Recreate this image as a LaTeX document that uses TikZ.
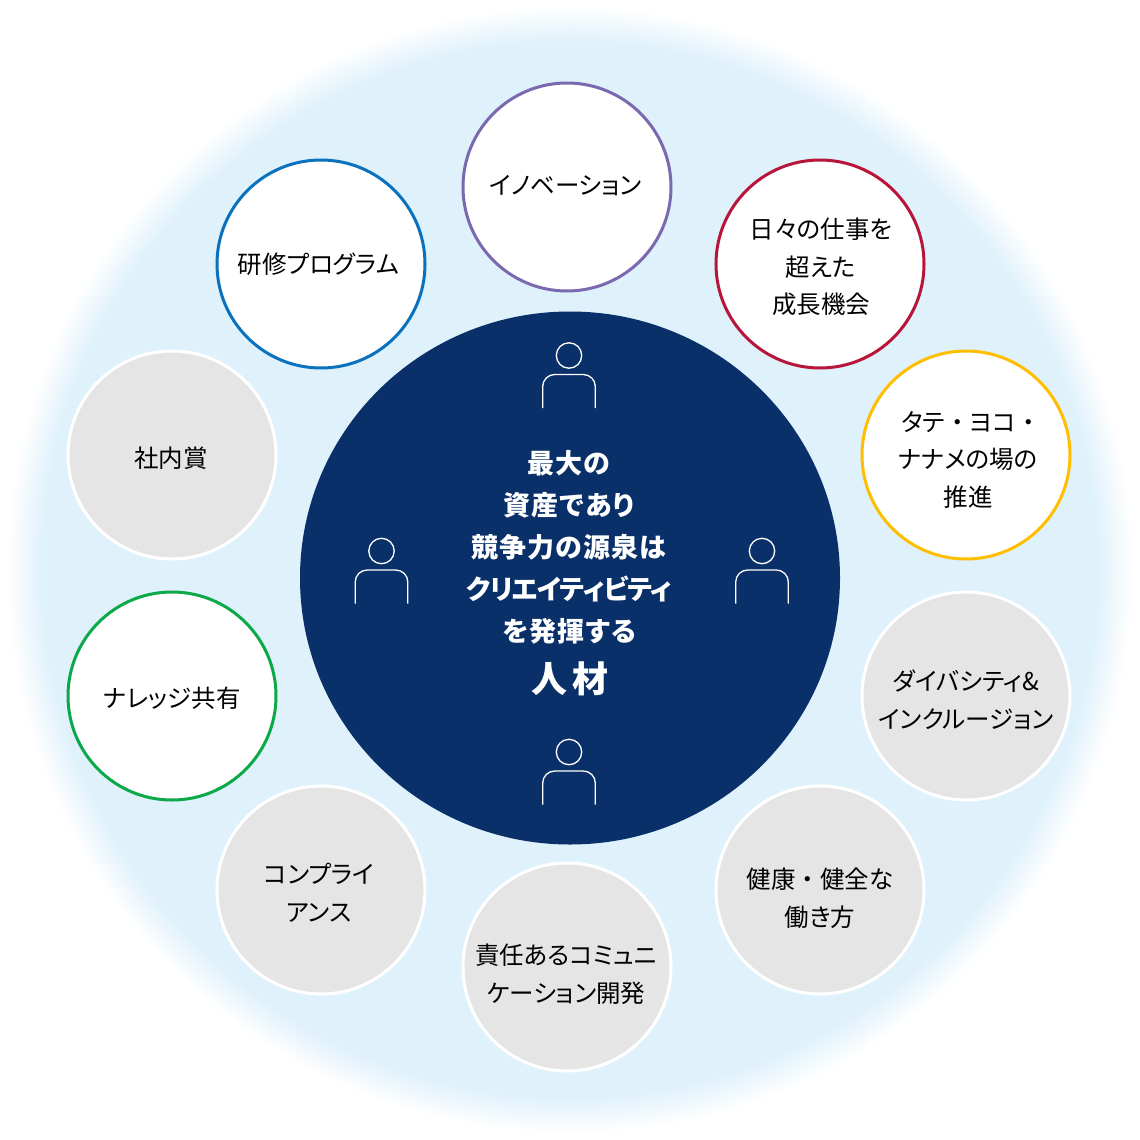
\documentclass[tikz,border=0pt]{standalone}
\usepackage{fontspec}
\setmainfont[RawFeature=+palt]{Noto Sans CJK JP}
\usetikzlibrary{shapes.geometric}

\definecolor{navy}{HTML}{0A3069}
\definecolor{glowblue}{HTML}{DFF1FB}
\definecolor{ringpurple}{HTML}{7A69AF}
\definecolor{ringred}{HTML}{B7163A}
\definecolor{ringyellow}{HTML}{FFBE00}
\definecolor{ringgreen}{HTML}{0CA84A}
\definecolor{ringblue}{HTML}{0A71BE}
\definecolor{fillgray}{HTML}{E5E5E5}

\newcommand{\widedot}{\hspace{.25em}・\hspace{.25em}}

\tikzset{
	theme/.style={circle,minimum size=208pt,inner sep=0pt,line width=3pt},
	openbox/.style={theme,fill=white},
	graybox/.style={theme,fill=fillgray,draw=white},
	themetext/.style={align=center,text=black,inner sep=0pt,font=\fontsize{24.5}{37.5}\selectfont},
	person/.style={draw=white,line width=1.3pt}
}

\begin{document}
\begin{tikzpicture}[x=1pt,y=-1pt]
	\useasboundingbox (0,0) rectangle (1140,1140);

	% soft edge of the blue disc
	\foreach \r [evaluate=\r as \pct using {(564-\r)/36*100}] in {564,562,...,528} {
		\fill[glowblue!\pct!white] (570,570) circle (\r);
	}

	\node[ellipse,fill=navy,minimum width=540pt,minimum height=533pt,inner sep=0pt] (core) at (570,578) {};
	\node[text=white,align=center,font=\bfseries\fontsize{27}{42}\selectfont\addfontfeature{LetterSpace=4}] (corelabel) at (569,547) {最大の\\資産であり\\競争力の源泉は\\{\addfontfeature{LetterSpace=-3}クリエイティビティ}\\を発揮する};
	\node[text=white,font=\bfseries\fontsize{36}{42}\selectfont] (hr) at (570,679) {人\,材};

	% people around the text
	\foreach \x/\y in {569/355.5,381.5/551,762/551,569/752} {
		\draw[person] (\x,\y) circle (12.7);
		\draw[person,rounded corners=12pt] (\x-26.3,\y+52.5) -- (\x-26.3,\y+19) -- (\x+26.3,\y+19) -- (\x+26.3,\y+52.5);
	}

	\node[openbox,draw=ringpurple] (innovation) at (567,187) {};
	\node[themetext] (innovationtext) at ([shift={(-1.5,-1)}]innovation) {イノベーション};

	\node[openbox,draw=ringred] (growth) at (820,264) {};
	\node[themetext] (growthtext) at ([shift={(1,3)}]growth) {日々の仕事を\\超えた\\成長機会};

	\node[openbox,draw=ringyellow] (venue) at (966,455) {};
	\node[themetext] (venuetext) at ([shift={(2,5)}]venue) {タテ\widedot ヨコ\widedot\\ナナメの場の\\推進};

	\node[graybox] (diversity) at (966,696) {};
	\node[themetext] (diversitytext) at ([shift={(0,4)}]diversity) {ダイバシティ\&\\インクルージョン};

	\node[graybox] (health) at (820,890) {};
	\node[themetext] (healthtext) at ([shift={(0,8)}]health) {健康\widedot 健全な\\働き方};

	\node[graybox] (communication) at (567,967) {};
	\node[themetext] (communicationtext) at ([shift={(-1,7)}]communication) {責任あるコミュニ\\ケーション開発};

	\node[graybox] (compliance) at (321,890) {};
	\node[themetext] (compliancetext) at ([shift={(-2,3)}]compliance) {コンプライ\\アンス};

	\node[openbox,draw=ringgreen] (knowledge) at (172,696) {};
	\node[themetext] (knowledgetext) at ([shift={(0,2)}]knowledge) {ナレッジ共有};

	\node[graybox] (award) at (172,455) {};
	\node[themetext] (awardtext) at ([shift={(-1,3)}]award) {社内賞};

	\node[openbox,draw=ringblue] (training) at (321,264) {};
	\node[themetext] (trainingtext) at ([shift={(-2.5,0)}]training) {研修プログラム};
\end{tikzpicture}
\end{document}
